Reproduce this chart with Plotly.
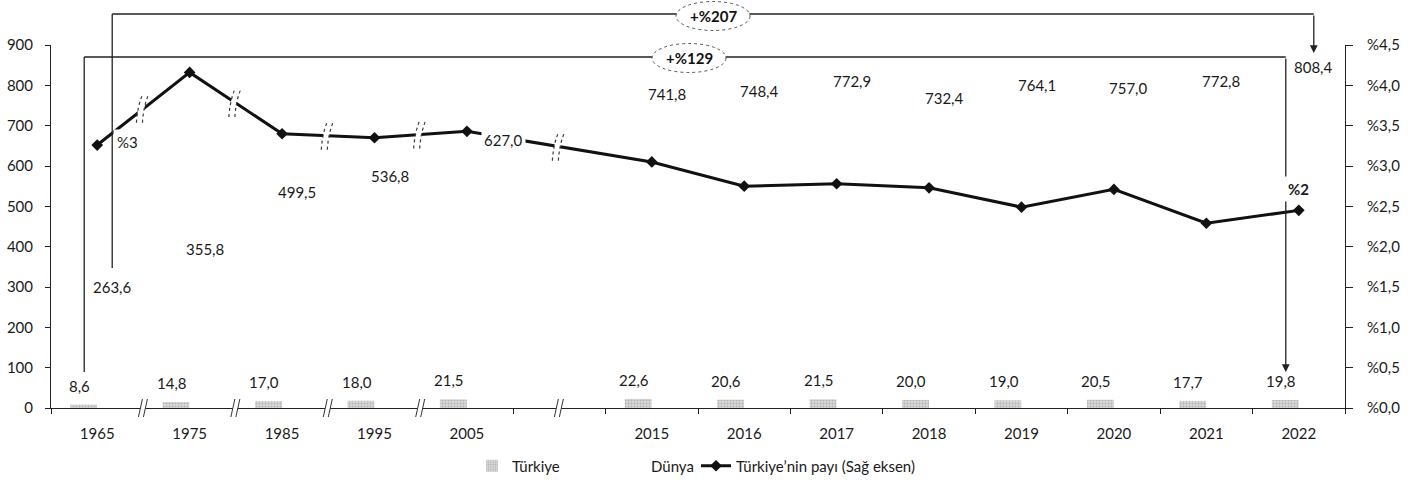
import plotly.graph_objects as go

# ---- data ----
categories = ["1965", "1975", "1985", "1995", "2005", " ",
              "2015", "2016", "2017", "2018", "2019", "2020", "2021", "2022"]
turkiye = [8.6, 14.8, 17.0, 18.0, 21.5, None,
           22.6, 20.6, 21.5, 20.0, 19.0, 20.5, 17.7, 19.8]
dunya = [263.6, 355.8, 499.5, 536.8, 627.0, None,
         741.8, 748.4, 772.9, 732.4, 764.1, 757.0, 772.8, 808.4]
pay = [3.26, 4.16, 3.40, 3.35, 3.43, None,
       3.05, 2.75, 2.78, 2.73, 2.49, 2.71, 2.29, 2.45]
break_positions = [0.5, 1.5, 2.5, 3.5, 5.0]
growth_world = "+%207"
growth_turkey = "+%129"

FONT = "Lato"
W, H = 1424, 487
ML, MR, MT, MB = 51, 79, 45, 79
PLOT_W = W - ML - MR
PLOT_H = H - MT - MB
CAT_PX = PLOT_W / len(categories)


def fmt(v):
    return f"{v:.1f}".replace(".", ",")


def py(px):
    """pixel row -> paper y"""
    return (H - MB - px) / PLOT_H


def pxx(px):
    """pixel column -> paper x"""
    return (px - ML) / PLOT_W


def interp_pay(xpos):
    pts = [(i, v) for i, v in enumerate(pay) if v is not None]
    for (i0, v0), (i1, v1) in zip(pts, pts[1:]):
        if i0 <= xpos <= i1:
            return v0 + (v1 - v0) * (xpos - i0) / (i1 - i0)
    return pts[-1][1]


fig = go.Figure()

fig.add_trace(go.Bar(
    x=categories, y=turkiye, name="Türkiye", legend="legend",
    marker=dict(color="#cfcfcf", line=dict(width=0),
                pattern=dict(shape=".", fgcolor="#8c8c8c", bgcolor="#d8d8d8",
                             size=3, solidity=0.35)),
    yaxis="y", hoverinfo="x+y",
))
fig.add_trace(go.Bar(
    x=categories, y=dunya, name="Dünya", legend="legend2",
    marker=dict(color="white", line=dict(width=0)),
    yaxis="y", hoverinfo="x+y",
))
fig.add_trace(go.Scatter(
    x=categories, y=pay, name="Türkiye’nin payı (Sağ eksen)", legend="legend3",
    mode="lines+markers", connectgaps=True,
    line=dict(color="#111111", width=3),
    marker=dict(symbol="diamond", size=9, color="#111111"),
    yaxis="y2",
))

annotations = []
text_font = dict(family=FONT, size=15, color="#1a1a1a")
first_i = next(i for i, v in enumerate(pay) if v is not None)
last_i = len(pay) - 1

# growth brackets
off_d = 15 / CAT_PX
off_t = -13 / CAT_PX
line_style = dict(color="#222222", width=1.3)
shapes = [
    # Dünya 1965 -> 2022
    dict(type="line", xref="x", yref="paper", x0=first_i + off_d, x1=first_i + off_d,
         y0=py(268), y1=py(14), line=line_style),
    dict(type="line", xref="x", yref="paper", x0=first_i + off_d, x1=last_i + off_d,
         y0=py(14), y1=py(14), line=line_style),
    # Türkiye 1965 -> 2022
    dict(type="line", xref="x", yref="paper", x0=first_i + off_t, x1=first_i + off_t,
         y0=py(372), y1=py(57), line=line_style),
    dict(type="line", xref="x", yref="paper", x0=first_i + off_t, x1=last_i + off_t,
         y0=py(57), y1=py(57), line=line_style),
]
annotations.append(dict(
    x=last_i + off_d, y=py(53), xref="x", yref="paper",
    text="", showarrow=True, ax=0, ay=-39, axref="pixel", ayref="pixel",
    arrowhead=2, arrowsize=1.2, arrowwidth=1.3, arrowcolor="#222222"))
annotations.append(dict(
    x=last_i + off_t, y=py(372), xref="x", yref="paper",
    text="", showarrow=True, ax=0, ay=-315, axref="pixel", ayref="pixel",
    arrowhead=2, arrowsize=1.2, arrowwidth=1.3, arrowcolor="#222222"))

# ellipses with growth figures
for cx, cy, label in [(713, 16, growth_world), (689, 58, growth_turkey)]:
    shapes.append(dict(
        type="circle", xref="paper", yref="paper",
        x0=pxx(cx - 37), x1=pxx(cx + 37), y0=py(cy + 14.5), y1=py(cy - 14.5),
        fillcolor="white", line=dict(color="#555555", width=1, dash="dot")))
    annotations.append(dict(
        x=pxx(cx), y=py(cy), xref="paper", yref="paper", text=f"<b>{label}</b>",
        showarrow=False, xanchor="center", yanchor="middle",
        font=dict(family=FONT, size=15, color="#111111")))

# value labels (x given as category index)
for i, (t, d) in enumerate(zip(turkiye, dunya)):
    if t is None:
        continue
    annotations.append(dict(
        x=i, y=t, xref="x", yref="y", text=fmt(t), showarrow=False,
        xanchor="center", yanchor="bottom", xshift=-18, yshift=8,
        font=text_font))
    annotations.append(dict(
        x=i, y=d, xref="x", yref="y", text=fmt(d), showarrow=False,
        xanchor="center", yanchor="bottom",
        xshift=15 + (22 if categories[i] == "2005" else 0), yshift=3,
        bgcolor="white", borderpad=2, font=text_font))

# share labels at both ends of the line
annotations.append(dict(
    x=first_i, y=pay[first_i], xref="x", yref="y2",
    text=f"%{round(pay[first_i])}", showarrow=False,
    xanchor="left", yanchor="middle", xshift=16, yshift=3,
    bgcolor="white", borderpad=3, font=text_font))
annotations.append(dict(
    x=last_i, y=pay[last_i], xref="x", yref="y2",
    text=f"<b>%{round(pay[last_i])}</b>", showarrow=False,
    xanchor="center", yanchor="bottom", xshift=0, yshift=8,
    bgcolor="white", borderpad=3, font=text_font))

# break marks on the share line
brk_style = dict(color="#3a3a3a", width=1.2, dash="dot")
for bx in break_positions:
    by = interp_pay(bx)
    common = dict(xref="x", yref="y2", xsizemode="pixel", ysizemode="pixel",
                  xanchor=bx, yanchor=by)
    shapes.append(dict(type="path", **common,
                       path="M -7,-14 Q -6,2 -1,14 L 5,14 Q 0,2 -1,-14 Z",
                       fillcolor="white", line=dict(width=0)))
    shapes.append(dict(type="path", **common, path="M -7,-14 Q -6,2 -1,14",
                       line=brk_style))
    shapes.append(dict(type="path", **common, path="M -1,-14 Q 0,2 5,14",
                       line=brk_style))

# break marks on the category axis
for bx in break_positions:
    common = dict(xref="x", yref="paper", xsizemode="pixel", ysizemode="pixel",
                  xanchor=bx, yanchor=0)
    shapes.append(dict(type="path", **common,
                       path="M -5,-9 L -1,9 L 4,9 L 0,-9 Z",
                       fillcolor="white", line=dict(width=0)))
    shapes.append(dict(type="path", **common, path="M -5,-9 L -1,9",
                       line=dict(color="#333333", width=1)))
    shapes.append(dict(type="path", **common, path="M 0,-9 L 4,9",
                       line=dict(color="#333333", width=1)))

axis_common = dict(showgrid=False, zeroline=False, showline=True, automargin=False,
                   linecolor="#222222", linewidth=1, ticks="outside",
                   tickcolor="#222222", tickfont=dict(family=FONT, size=15,
                                                      color="#1a1a1a"))

legend_common = dict(orientation="h", xanchor="left", y=py(466), yanchor="middle",
                     font=dict(family=FONT, size=15, color="#1a1a1a"),
                     bgcolor="rgba(0,0,0,0)")

fig.update_layout(
    width=W, height=H,
    margin=dict(l=ML, r=MR, t=MT, b=MB, pad=0, autoexpand=False),
    paper_bgcolor="white", plot_bgcolor="white",
    barmode="group", bargap=0.416, bargroupgap=0,
    separators=",.",
    font=dict(family=FONT, size=15, color="#1a1a1a"),
    xaxis=dict(type="category", categoryorder="array", categoryarray=categories,
               range=[-0.5, len(categories) - 0.5], tickson="boundaries",
               ticklen=5, ticklabelstandoff=12, **axis_common),
    yaxis=dict(range=[0, 900], dtick=100, ticklen=5, ticklabelstandoff=9,
               **axis_common),
    yaxis2=dict(range=[0, 4.5], dtick=0.5, overlaying="y", side="right",
                tickprefix="%", tickformat=".1f", ticklen=7,
                ticklabelstandoff=11, **axis_common),
    legend=dict(x=pxx(472), **legend_common),
    legend2=dict(x=pxx(611), **legend_common),
    legend3=dict(x=pxx(696), **legend_common),
    showlegend=True,
    annotations=annotations,
    shapes=shapes,
)

fig.write_html("out.html")
